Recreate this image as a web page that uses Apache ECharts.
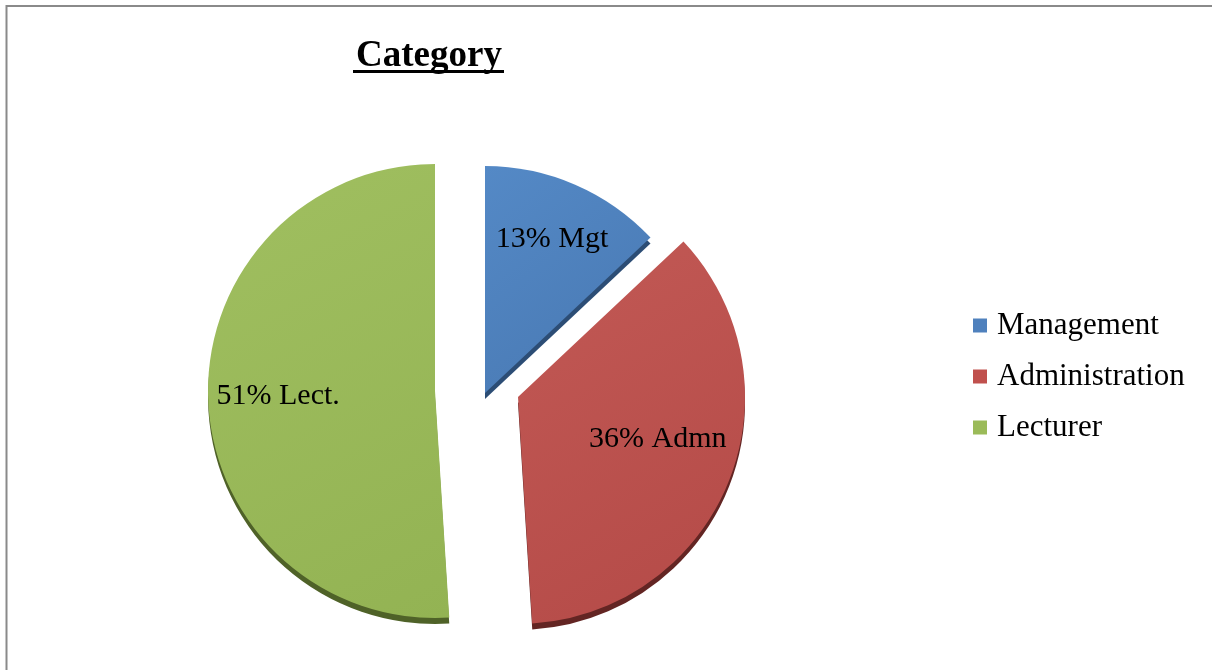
<!DOCTYPE html>
<html>
<head>
<meta charset="utf-8">
<script src="https://cdn.jsdelivr.net/npm/echarts@6/dist/echarts.min.js"></script>
<style>
  html, body { margin: 0; padding: 0; background: #ffffff; }
  #chart { width: 1212px; height: 670px; }
</style>
</head>
<body>
<div id="chart"></div>
<script>
// Respondents by staff category (percent)
const categories = ['Management', 'Administration', 'Lecturer'];
const shortNames = ['Mgt', 'Admn', 'Lect.'];
const values = [13, 36, 51];

const colors = ['#4f81bd', '#c0504d', '#9bbb59'];
const lightColors = ['#5489c6', '#c25955', '#a0bf60'];
const darkColors = ['#4878b2', '#b44a47', '#93b353'];
const sideColors = ['#2c4d75', '#632523', '#4f6228'];

// each slice is pulled out from the pie on its own, so every slice gets its own centre
const centers = [[485, 393], [518, 397], [435, 391]];
const radius = 227;
const labelFrac = 0.7;
const labelNudge = [[4, -8], [-8, -16], [2, 0]];

const total = values.reduce((a, b) => a + b, 0);
const font = '"Liberation Serif", "Times New Roman", serif';

const series = [];
let cum = 0;
values.forEach((v, i) => {
  const startDeg = 90 - 360 * cum / total;
  const midRad = (360 * (cum + v / 2) / total) * Math.PI / 180; // clockwise from top
  const c = centers[i];
  cum += v;
  series.push({
    type: 'pie',
    center: c,
    radius: radius,
    startAngle: startDeg,
    clockwise: true,
    animation: false,
    silent: true,
    avoidLabelOverlap: false,
    labelLine: { show: false },
    emphasis: { disabled: true },
    label: {
      show: true,
      position: 'inside',
      fontFamily: font,
      fontSize: 30,
      color: '#000000',
      formatter: () => v + '% ' + shortNames[i]
    },
    labelLayout: () => ({
      x: c[0] + labelFrac * radius * Math.sin(midRad) + labelNudge[i][0],
      y: c[1] - labelFrac * radius * Math.cos(midRad) + labelNudge[i][1],
      align: 'center',
      verticalAlign: 'middle'
    }),
    data: [
      {
        name: categories[i],
        value: v,
        itemStyle: {
          color: {
            type: 'linear', x: 0, y: 0, x2: 1, y2: 1,
            colorStops: [
              { offset: 0, color: lightColors[i] },
              { offset: 1, color: darkColors[i] }
            ]
          },
          shadowColor: sideColors[i],
          shadowBlur: 0,
          shadowOffsetY: 6,
          shadowOffsetX: 0
        }
      },
      {
        name: '',
        value: total - v,
        itemStyle: { color: 'rgba(0,0,0,0)', shadowColor: 'rgba(0,0,0,0)' },
        label: { show: false }
      }
    ]
  });
});

const chart = echarts.init(document.getElementById('chart'), null, { renderer: 'canvas' });
chart.setOption({
  backgroundColor: '#ffffff',
  color: colors,
  animation: false,
  legend: {
    data: categories.map((name, i) => ({ name, itemStyle: { color: colors[i] } })),
    orient: 'vertical',
    left: 968,
    top: 305,
    icon: 'rect',
    itemWidth: 14,
    itemHeight: 14,
    itemGap: 20,
    selectedMode: false,
    textStyle: {
      fontFamily: font,
      fontSize: 31,
      color: '#000000',
      lineHeight: 31,
      padding: [0, 0, 0, 5]
    }
  },
  graphic: [
    {
      type: 'rect',
      silent: true,
      shape: { x: 6.5, y: 6, width: 1400, height: 1000 },
      style: { fill: 'none', stroke: '#8a8a8a', lineWidth: 2 }
    },
    {
      type: 'text',
      silent: true,
      x: 429,
      y: 56,
      style: {
        text: 'Category',
        font: 'bold 37px ' + font,
        fill: '#000000',
        textAlign: 'center',
        textVerticalAlign: 'middle'
      }
    },
    {
      type: 'rect',
      silent: true,
      shape: { x: 353, y: 70, width: 151, height: 3 },
      style: { fill: '#000000' }
    }
  ],
  series: series
});
</script>
</body>
</html>
